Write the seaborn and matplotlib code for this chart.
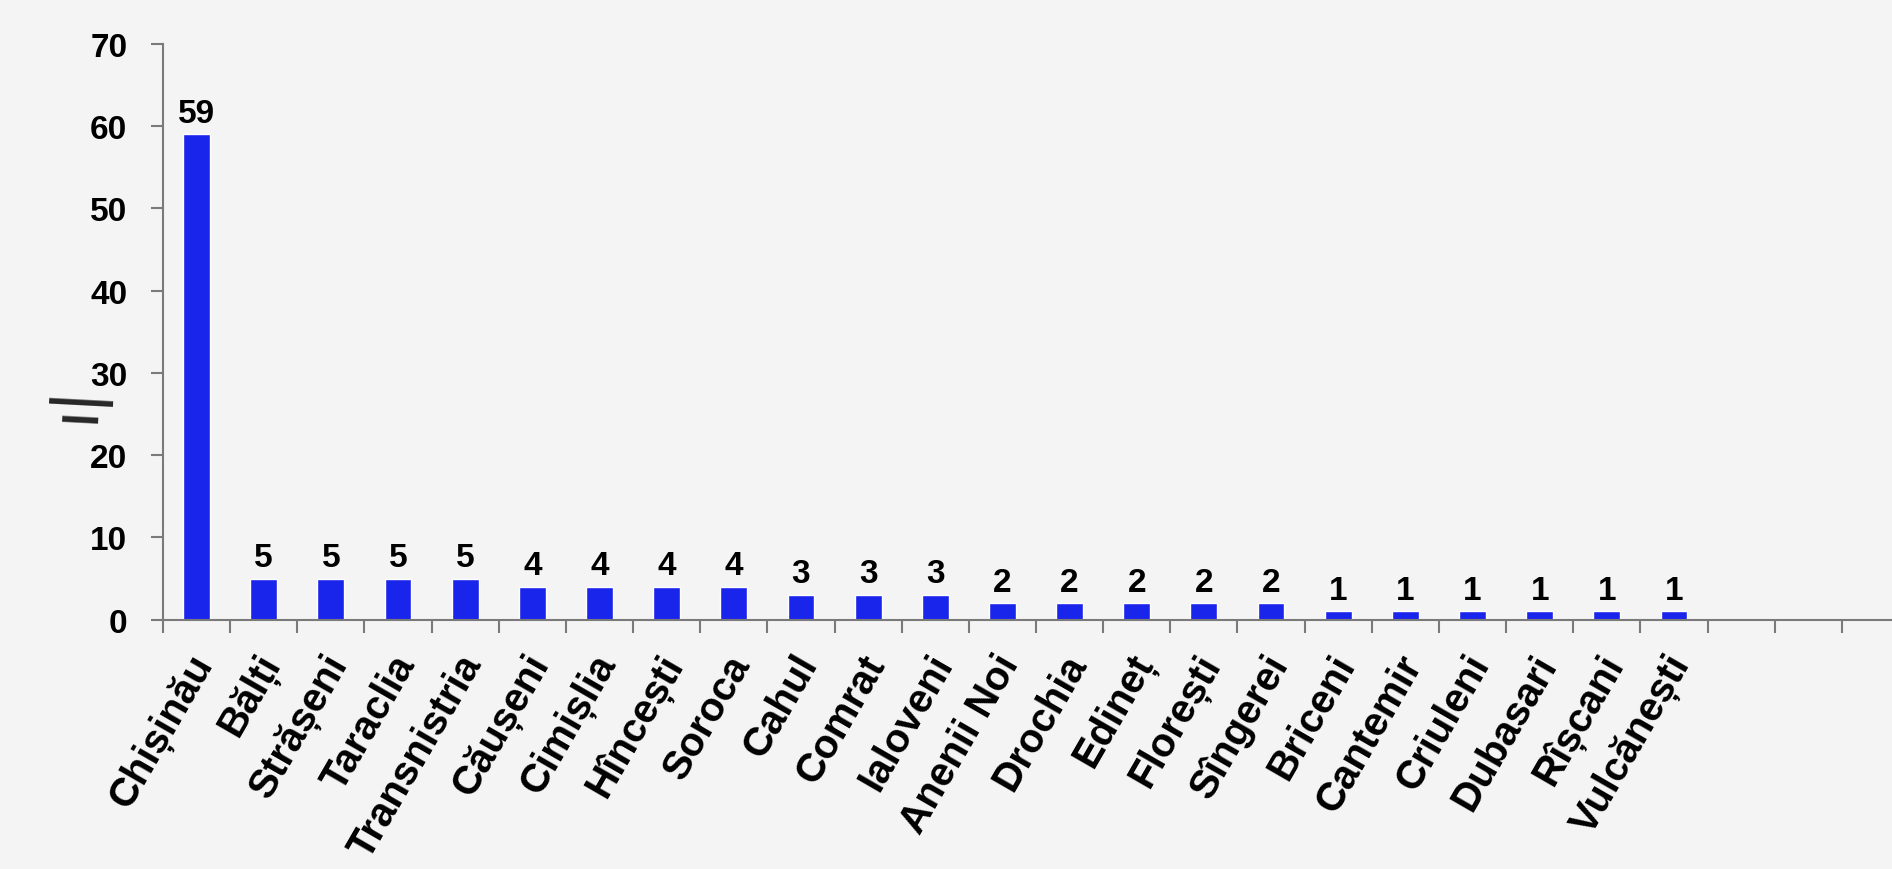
import numpy as np
import matplotlib
matplotlib.use('Agg')
import matplotlib.pyplot as plt
import matplotlib.transforms as mtransforms
import seaborn as sns

# data
districts = ['Chișinău', 'Bălți', 'Strășeni', 'Taraclia', 'Transnistria', 'Căușeni',
             'Cimișlia', 'Hîncești', 'Soroca', 'Cahul', 'Comrat', 'Ialoveni',
             'Anenii Noi', 'Drochia', 'Edineț', 'Florești', 'Sîngerei', 'Briceni',
             'Cantemir', 'Criuleni', 'Dubasari', 'Rîșcani', 'Vulcănești']
counts = [59, 5, 5, 5, 5, 4, 4, 4, 4, 3, 3, 3, 2, 2, 2, 2, 2, 1, 1, 1, 1, 1, 1]
y_ticks = [0, 10, 20, 30, 40, 50, 60, 70]
n_slots = 26  # the category axis keeps a few empty slots on the right

bg = '#f4f4f4'
bar_color = '#1a25eb'
axis_gray = '#7a7a7a'

sns.set_theme(style='ticks')
plt.rcParams['font.family'] = ['Liberation Sans', 'DejaVu Sans']
plt.rcParams['font.weight'] = 'bold'

fig = plt.figure(figsize=(18.92, 8.70), dpi=100, facecolor=bg)
ax = fig.add_axes([163 / 1892, 1 - 620.7 / 870, 1746 / 1892, 576 / 870])
ax.set_facecolor(bg)

sns.barplot(x=districts, y=counts, color=bar_color, saturation=1, width=0.4, ax=ax)
ax.bar_label(ax.containers[0], padding=4, fontsize=24, color='black')

ax.set_ylim(0, 70)
ax.set_yticks(y_ticks)
ax.set_xlim(-0.5, n_slots - 0.5)

# boundary ticks as major, names as minor ticks at bar centres
ax.set_xticks(np.arange(-0.5, n_slots, 1))
ax.set_xticklabels([])
ax.set_xticks(range(len(districts)), districts, minor=True)

ax.tick_params(axis='y', length=8.6, width=1.5, color=axis_gray, pad=17,
               labelsize=24, labelcolor='black')
ax.tick_params(axis='x', which='major', length=9.4, width=1.5, color=axis_gray)
ax.tick_params(axis='x', which='minor', length=0, pad=27, labelsize=29,
               labelcolor='black')

for side in ['top', 'right']:
    ax.spines[side].set_visible(False)
for side in ['left', 'bottom']:
    ax.spines[side].set_color(axis_gray)
    ax.spines[side].set_linewidth(1.5)

ax.set_xlabel('')
ax.set_ylabel('ı|', fontsize=49, fontweight='normal', rotation=87,
              va='center', ha='center')
ax.yaxis.set_label_coords(-0.05, 0.376)

shift = mtransforms.ScaledTranslation(0.08, 0, fig.dpi_scale_trans)
for lab in ax.get_xticklabels(minor=True):
    lab.set_rotation(60)
    lab.set_rotation_mode('anchor')
    lab.set_ha('right')
    lab.set_va('center')
    lab.set_transform(lab.get_transform() + shift)

fig.savefig('out.png', dpi=100, facecolor=bg)
